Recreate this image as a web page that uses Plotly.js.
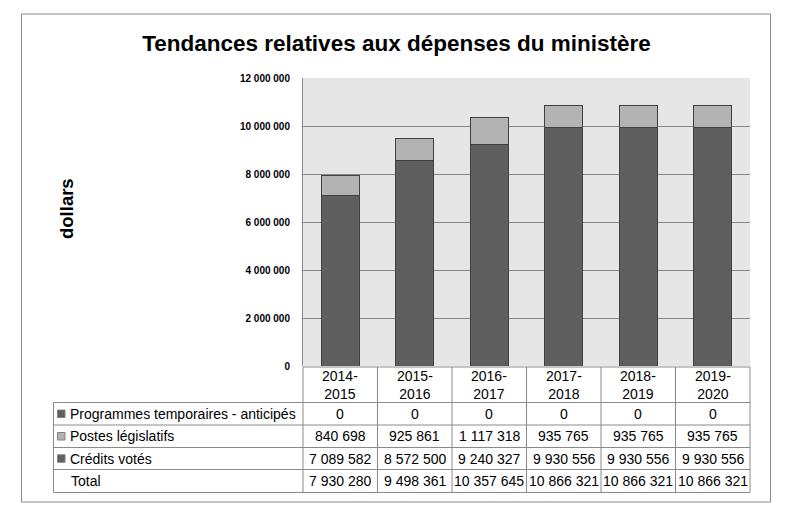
<!DOCTYPE html>
<html>
<head>
<meta charset="utf-8">
<script src="https://cdn.plot.ly/plotly-3.0.1.min.js"></script>
<style>html,body{margin:0;padding:0;background:#fff;}#chart{width:788px;height:515px;}</style>
</head>
<body>
<div id="chart"></div>
<script>
// ---- Data ----
const categories = ["2014-2015", "2015-2016", "2016-2017", "2017-2018", "2018-2019", "2019-2020"];
const categoryLabels = ["2014-<br>2015", "2015-<br>2016", "2016-<br>2017", "2017-<br>2018", "2018-<br>2019", "2019-<br>2020"];
const seriesNames = ["Programmes temporaires - anticipés", "Postes législatifs", "Crédits votés"];
const programmesTemporaires = [0, 0, 0, 0, 0, 0];
const postesLegislatifs = [840698, 925861, 1117318, 935765, 935765, 935765];
const creditsVotes = [7089582, 8572500, 9240327, 9930556, 9930556, 9930556];
const totals = [7930280, 9498361, 10357645, 10866321, 10866321, 10866321];
const yTickValues = [0, 2000000, 4000000, 6000000, 8000000, 10000000, 12000000];

// ---- Styles ----
const darkColor = "#5f5f5f";
const lightColor = "#b3b3b3";
const barLine = "#404040";
const borderColor = "#8a8a8a";
const font = "Liberation Sans, Arial, sans-serif";

// plot area in pixels
const L = 303, R = 750, T = 78, B = 366;
const px = x => (x - L) / (R - L);
const py = y => (B - y) / (B - T);

function fmt(n) {
  return String(n).replace(/\B(?=(\d{3})+(?!\d))/g, " ");
}

const traces = [
  { name: seriesNames[2], x: categories, y: creditsVotes, type: "bar",
    marker: { color: darkColor, line: { color: barLine, width: 1 } } },
  { name: seriesNames[1], x: categories, y: postesLegislatifs, type: "bar",
    marker: { color: lightColor, line: { color: barLine, width: 1 } } },
  { name: seriesNames[0], x: categories, y: programmesTemporaires, type: "bar",
    marker: { color: darkColor, line: { color: barLine, width: 0 } } }
];

// ---- Table geometry ----
const rowEdges = [367, 402.5, 425, 447.5, 469.5, 492.5];
const tableLeft = 53.5;
const colW = (R - L) / categories.length;

const shapes = [];
const line = (x0, y0, x1, y1) => shapes.push({ type: "line", xref: "paper", yref: "paper",
  x0: px(x0), y0: py(y0), x1: px(x1), y1: py(y1), line: { color: borderColor, width: 1 } });

// outer border
shapes.push({ type: "rect", xref: "paper", yref: "paper", x0: px(21.5), x1: px(770.5),
  y0: py(14), y1: py(502), line: { color: borderColor, width: 1 }, layer: "below" });

// horizontal lines
line(L, rowEdges[0], R, rowEdges[0]);
for (let i = 1; i < rowEdges.length; i++) line(tableLeft, rowEdges[i], R, rowEdges[i]);
// vertical lines
line(tableLeft, rowEdges[1], tableLeft, rowEdges[5]);
for (let k = 0; k <= categories.length; k++) line(L + k * colW, rowEdges[0], L + k * colW, rowEdges[5]);

// legend keys
const keyColors = [darkColor, lightColor, darkColor];
for (let r = 0; r < 3; r++) {
  const cy = (rowEdges[r + 1] + rowEdges[r + 2]) / 2;
  shapes.push({ type: "rect", xref: "paper", yref: "paper",
    x0: px(57.5), x1: px(65), y0: py(cy - 3.75), y1: py(cy + 3.75),
    fillcolor: keyColors[r], line: { color: "#808080", width: 1 } });
}

const annotations = [];
const txt = (x, y, text, anchor, xref) => annotations.push({
  x: x, y: py(y), xref: xref || "paper", yref: "paper", text: text, showarrow: false,
  xanchor: anchor || "center", yanchor: "middle", font: { family: font, size: 14, color: "#000" }
});

// header (categories)
categories.forEach((c, i) => txt(c, (rowEdges[0] + rowEdges[1]) / 2, categoryLabels[i], "center", "x"));
// row labels
const rowLabels = [seriesNames[0], seriesNames[1], seriesNames[2], "Total"];
const rowData = [programmesTemporaires, postesLegislatifs, creditsVotes, totals];
rowLabels.forEach((lab, r) => {
  const cy = (rowEdges[r + 1] + rowEdges[r + 2]) / 2;
  txt(px(r === 3 ? 69 : 68), cy, lab, "left");
  rowData[r].forEach((v, i) => txt(categories[i], cy, fmt(v), "center", "x"));
});

// y title
annotations.push({ x: px(66), y: py(209), xref: "paper", yref: "paper", text: "<b>dollars</b>",
  textangle: -90, showarrow: false, xanchor: "center", yanchor: "middle",
  font: { family: font, size: 18.5, color: "#000" } });

const layout = {
  width: 788, height: 515,
  margin: { l: L, r: 788 - R, t: T, b: 515 - B, pad: 0 },
  paper_bgcolor: "#ffffff",
  plot_bgcolor: "#e6e6e6",
  barmode: "stack",
  bargap: 0.49,
  showlegend: false,
  separators: ", ",
  title: { text: "<b>Tendances relatives aux dépenses du ministère</b>",
    x: 396.5 / 788, xref: "container", xanchor: "center",
    y: 1 - 43 / 515, yref: "container", yanchor: "middle",
    font: { family: font, size: 22.5, color: "#000" } },
  xaxis: { type: "category", showticklabels: false, showgrid: false, zeroline: false,
    showline: false, ticks: "", fixedrange: true },
  yaxis: { range: [0, 12000000], tickvals: yTickValues, tickformat: ",d",
    showgrid: true, gridcolor: "#878787", gridwidth: 1, zeroline: false,
    showline: true, linecolor: borderColor, linewidth: 1,
    ticks: "outside", ticklen: 10, tickcolor: "rgba(0,0,0,0)",
    tickfont: { family: font, size: 10, color: "#000", weight: "bold" } },
  shapes: shapes,
  annotations: annotations
};

Plotly.newPlot("chart", traces, layout, { displayModeBar: false, staticPlot: true });
</script>
</body>
</html>
